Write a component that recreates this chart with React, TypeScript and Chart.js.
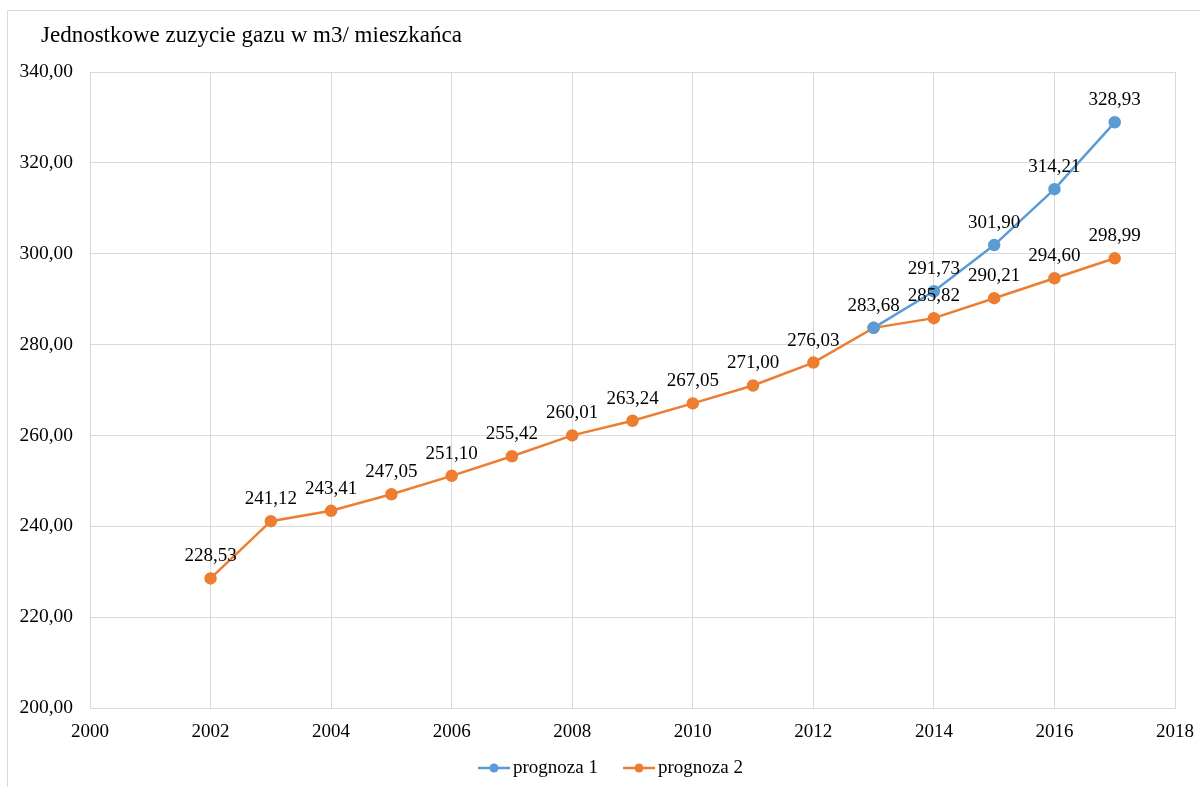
import React, { useEffect, useRef } from "react";
import { Chart, registerables } from "chart.js";

Chart.register(...registerables);

const title = "Jednostkowe zuzycie gazu w m3/ mieszkańca";
const years1 = [2013, 2014, 2015, 2016, 2017];
const prognoza1 = [283.68, 291.73, 301.9, 314.21, 328.93];
const years2 = [2002, 2003, 2004, 2005, 2006, 2007, 2008, 2009, 2010, 2011, 2012, 2013, 2014, 2015, 2016, 2017];
const prognoza2 = [228.53, 241.12, 243.41, 247.05, 251.1, 255.42, 260.01, 263.24, 267.05, 271.0, 276.03, 283.68, 285.82, 290.21, 294.6, 298.99];
const seriesNames = ["prognoza 1", "prognoza 2"];
const colors = ["#5B9BD5", "#ED7D31"];
const xMin = 2000, xMax = 2018, xStep = 2;
const yMin = 200, yMax = 340, yStep = 20;

const FONT = "'Liberation Serif', 'Times New Roman', serif";
const fmt = (v: number) => v.toFixed(2).replace(".", ",");

const overlayPlugin = {
  id: "overlay",
  afterDatasetsDraw(chart: any) {
    const ctx = chart.ctx;
    ctx.save();
    ctx.font = `19px ${FONT}`;
    ctx.fillStyle = "#000";
    ctx.textAlign = "center";
    ctx.textBaseline = "middle";
    chart.data.datasets.forEach((ds: any, di: number) => {
      const meta = chart.getDatasetMeta(di);
      meta.data.forEach((pt: any, i: number) => {
        if (di === 0 && i === 0) return;
        ctx.fillText(fmt(ds.data[i].y), pt.x, pt.y - 22);
      });
    });
    ctx.restore();
  },
  afterDraw(chart: any) {
    const ctx = chart.ctx;
    ctx.save();
    ctx.font = `23px ${FONT}`;
    ctx.fillStyle = "#000";
    ctx.textAlign = "left";
    ctx.textBaseline = "middle";
    ctx.fillText(title, 41, 36);
    const items = [
      { x: 478, label: seriesNames[0], color: colors[0] },
      { x: 623, label: seriesNames[1], color: colors[1] },
    ];
    const ly = 768;
    items.forEach((it) => {
      ctx.strokeStyle = it.color;
      ctx.lineWidth = 2.5;
      ctx.beginPath();
      ctx.moveTo(it.x, ly);
      ctx.lineTo(it.x + 32, ly);
      ctx.stroke();
      ctx.fillStyle = it.color;
      ctx.beginPath();
      ctx.arc(it.x + 16, ly, 4.5, 0, Math.PI * 2);
      ctx.fill();
      ctx.fillStyle = "#000";
      ctx.font = `19px ${FONT}`;
      ctx.fillText(it.label, it.x + 35, ly);
    });
    ctx.restore();
  },
};

export default function App() {
  const ref = useRef<HTMLCanvasElement>(null);
  useEffect(() => {
    if (!ref.current) return;
    const chart = new Chart(ref.current, {
      type: "line",
      data: {
        datasets: [
          {
            label: seriesNames[0],
            data: years1.map((x, i) => ({ x, y: prognoza1[i] })),
            borderColor: colors[0],
            backgroundColor: colors[0],
            borderWidth: 2.5,
            pointRadius: 5,
            pointHoverRadius: 5,
            tension: 0,
          },
          {
            label: seriesNames[1],
            data: years2.map((x, i) => ({ x, y: prognoza2[i] })),
            borderColor: colors[1],
            backgroundColor: colors[1],
            borderWidth: 2.5,
            pointRadius: 5,
            pointHoverRadius: 5,
            tension: 0,
          },
        ],
      },
      options: {
        animation: false,
        responsive: false,
        layout: { padding: { top: 72, right: 25, bottom: 49, left: 0 } },
        plugins: { legend: { display: false }, title: { display: false }, tooltip: { enabled: false } },
        scales: {
          x: {
            type: "linear",
            min: xMin,
            max: xMax,
            ticks: {
              stepSize: xStep,
              color: "#000",
              font: { family: FONT, size: 19 },
              padding: 13,
              maxRotation: 0,
              callback: (v: any) => String(v),
            },
            grid: { color: "#d9d9d9", drawTicks: false },
            border: { color: "#d9d9d9" },
            afterFit: (s: any) => { s.height = 30; s.paddingLeft = 0; s.paddingRight = 0; },
          },
          y: {
            min: yMin,
            max: yMax,
            ticks: {
              stepSize: yStep,
              color: "#000",
              font: { family: FONT, size: 19.5 },
              padding: 17,
              callback: (v: any) => fmt(Number(v)),
            },
            grid: { color: "#d9d9d9", drawTicks: false },
            border: { color: "#d9d9d9" },
            afterFit: (s: any) => { s.width = 90; s.paddingTop = 0; s.paddingBottom = 0; },
          },
        },
      },
      plugins: [overlayPlugin],
    });
    return () => chart.destroy();
  }, []);
  return (
    <div style={{ position: "absolute", left: 0, top: 0, width: 1200, height: 787, overflow: "hidden", background: "#fff" }}>
      <div style={{ position: "absolute", left: 7, top: 10, width: 1200, height: 800, border: "1px solid #d9d9d9", boxSizing: "border-box" }} />
      <canvas ref={ref} width={1200} height={787} style={{ position: "absolute", left: 0, top: 0 }} />
    </div>
  );
}
